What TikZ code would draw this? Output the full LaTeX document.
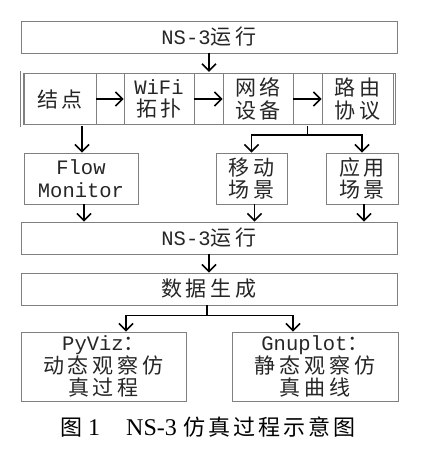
\documentclass[tikz,border=0pt]{standalone}
\usepackage{fontspec}
\setmainfont{Liberation Serif}
\setmonofont{Liberation Mono}
\newfontfamily\cjk[LetterSpace=19]{Noto Sans CJK SC}
\newfontfamily\cjkcap[LetterSpace=13]{Noto Sans CJK SC}
\usetikzlibrary{arrows.meta,calc}
\newcommand\latn[1]{{\ttfamily\fontsize{20.5}{22.5}\selectfont #1}}
\newcommand\zh[1]{{\cjk\fontsize{21}{22.5}\selectfont #1}}
\begin{document}
\begin{tikzpicture}[x=1pt,y=-1pt,
  box/.style={draw=black!50, line width=0.8pt, inner sep=0pt, align=center,
    text=black!85, font=\fontsize{21}{22.5}\selectfont},
  arr/.style={draw=black, line width=1.6pt,
    -{Straight Barb[length=7pt,width=14pt,line width=1.6pt]}},
  ln/.style={draw=black, line width=1.6pt}]
\fill[white] (0,0) rectangle (428,457);
\useasboundingbox (0,0) rectangle (428,457);

\node[box, minimum width=376pt, minimum height=32pt] (run1) at (209,37) {\latn{NS-3}\zh{运行}};
\node[draw=black!50, double, double distance=1.8pt, line width=0.7pt,
  minimum width=374.8pt, minimum height=53.5pt, inner sep=0pt] (frame) at (209.3,99) {};

\node[box, minimum width=72pt, minimum height=51pt] (jd) at (60,99) {\zh{结点}};
\node[box, minimum width=70pt, minimum height=51pt] (wifi) at (159,99) {\latn{WiFi}\\\zh{拓扑}};
\node[box, minimum width=70pt, minimum height=51pt] (wl) at (258,99) {\zh{网络}\\\zh{设备}};
\node[box, minimum width=71pt, minimum height=51pt] (ly) at (357.5,99) {\zh{路由}\\\zh{协议}};

\node[box, minimum width=114pt, minimum height=51pt] (fm) at (81,178.5) {\latn{Flow}\\\latn{Monitor}};
\node[box, minimum width=71pt, minimum height=51pt] (yd) at (251.5,178.5) {\zh{移动}\\\zh{场景}};
\node[box, minimum width=72pt, minimum height=51pt] (yy) at (362,178.5) {\zh{应用}\\\zh{场景}};

\node[box, minimum width=376pt, minimum height=32pt] (run2) at (209,238) {\latn{NS-3}\zh{运行}};
\node[box, minimum width=376pt, minimum height=32pt] (data) at (209,289) {\zh{数据生成}};

\node[box, minimum width=165pt, minimum height=69pt] (py) at (103.5,366.5) {\latn{PyViz}\zh{：}\\\zh{动态观察仿}\\\zh{真过程}};
\node[box, minimum width=166pt, minimum height=69pt] (gn) at (315,366.5) {\latn{Gnuplot}\zh{：}\\\zh{静态观察仿}\\\zh{真曲线}};

\node[anchor=west, inner sep=0pt] (cap) at (60,427)
  {\fontsize{22}{26}\selectfont\cjkcap 图\rmfamily\fontsize{24}{26}\selectfont\ 1\hspace{26pt}NS-3\hspace{7pt}\cjkcap\fontsize{22}{26}\selectfont 仿真过程示意图};

% connectors
\draw[arr] (run1) -- (run1 |- frame.north);
\draw[arr] (jd) -- (wifi);
\draw[arr] (wifi) -- (wl);
\draw[arr] (wl) -- (ly);
\draw[arr] ([xshift=1pt]fm.north |- frame.south) -- ([xshift=1pt]fm.north);
\coordinate (br) at ($(wl.east)!0.5!(ly.west)$);
\draw[ln] (br |- frame.south) -- ++(0,9) coordinate (brj);
\draw[arr] (brj) -| (yd.north);
\draw[arr] (brj) -| (yy.north);
\draw[arr] ([xshift=3pt]fm.south) -- ([xshift=3pt]fm.south |- run2.north);
\draw[arr] ([xshift=3pt]yd.south) -- ([xshift=3pt]yd.south |- run2.north);
\draw[arr] ([xshift=2pt]yy.south) -- ([xshift=2pt]yy.south |- run2.north);
\draw[arr] (run2) -- (data);
\draw[ln] ([xshift=-2pt]data.south) -- ++(0,10) coordinate (dj);
\draw[arr] (dj) -| ([xshift=22.5pt]py.north);
\draw[arr] (dj) -| ([xshift=-22pt]gn.north);
\end{tikzpicture}
\end{document}
